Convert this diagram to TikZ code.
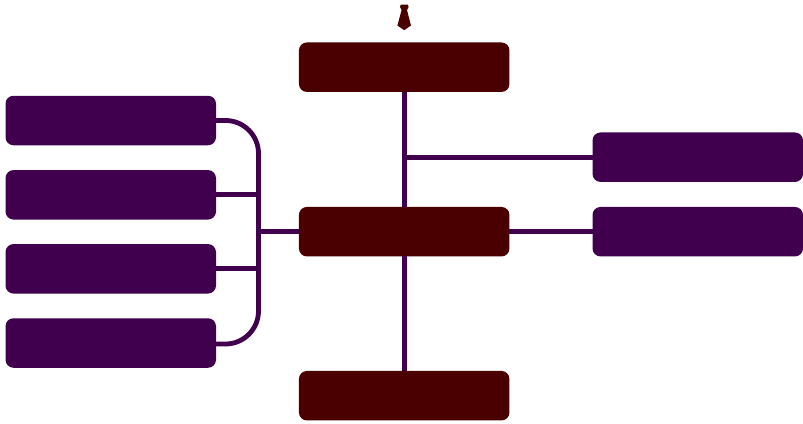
\documentclass[tikz,border=0pt]{standalone}
\definecolor{plum}{HTML}{40004D}
\definecolor{maroon}{HTML}{4B0000}
\tikzset{
  box/.style={rectangle,rounded corners=8pt,inner sep=0pt,outer sep=0pt,minimum width=210.5pt,minimum height=49.5pt},
  leaf/.style={box,fill=plum},
  core/.style={box,fill=maroon},
  link/.style={draw=plum,line width=4.8pt},
  tiemark/.style={fill=maroon,draw=none}
}
\begin{document}
\begin{tikzpicture}[x=1pt,y=-1pt]
\useasboundingbox (0,0) rectangle (803,423);
\node[core] (top) at (404.2,67.2) {};
\node[core] (mid) at (404.2,231.7) {};
\node[core] (bot) at (404.2,395.7) {};
\node[leaf] (l1) at (110.75,120.5) {};
\node[leaf] (l2) at (110.75,194.8) {};
\node[leaf] (l3) at (110.75,268.8) {};
\node[leaf] (l4) at (110.75,343) {};
\node[leaf] (r1) at (697.75,157.2) {};
\node[leaf] (r2) at (697.75,231.7) {};
\coordinate (busTop) at (258.5,120.5);
\coordinate (busBot) at (258.5,344);
\coordinate (stemEnd) at (261.3,231.7);
\coordinate (tap) at (404.2,157.2);
\draw[link,rounded corners=33pt] (l1.east) -- (busTop) -- (busBot) -- (216,344);
\draw[link] (l2.east) -- (258.5,194.8);
\draw[link] (l3.east) -- (258.5,268.8);
\draw[link] (stemEnd) -- (mid.west);
\draw[link] (top.south) -- (mid.north);
\draw[link] (mid.south) -- (bot.north);
\draw[link] (tap) -- (r1.west);
\draw[link] (mid.east) -- (r2.west);
\fill[tiemark] (400.8,4.5) -- (407.8,4.5) -- (408.6,7) -- (407,10) -- (411,25.5) -- (404.2,30.2) -- (397.4,25.5) -- (401.6,10) -- (400,7) -- cycle;
\end{tikzpicture}
\end{document}
